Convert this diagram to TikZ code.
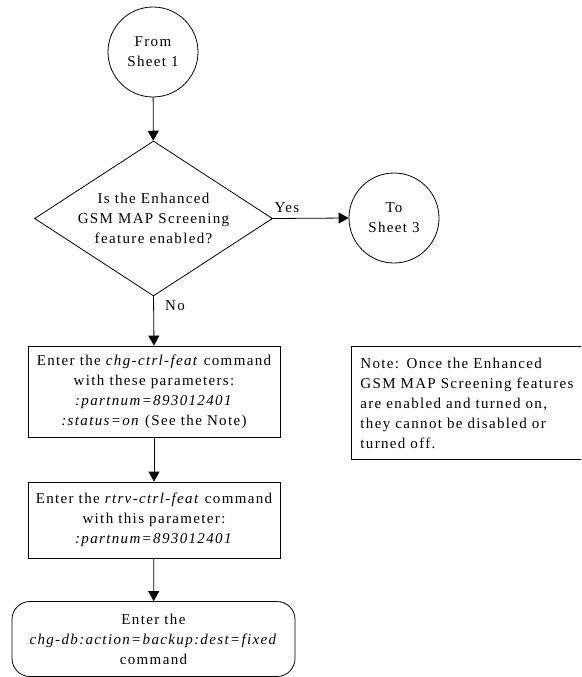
\documentclass[tikz,border=0pt]{standalone}
\usepackage{fontspec}
\setmainfont{Liberation Serif}[LetterSpace=9]
\usetikzlibrary{arrows.meta,shapes.geometric}

\tikzset{
  flow/.style={draw=black, line width=0.8pt, font=\fontsize{15}{20}\selectfont, align=center},
  connector/.style={circle, flow, minimum size=90pt, inner sep=0pt},
  decision/.style={diamond, flow, aspect=1.535, minimum width=238pt, minimum height=155pt, inner sep=0pt},
  process/.style={rectangle, flow, minimum width=252pt, inner sep=0pt},
  terminal/.style={rectangle, rounded corners=18pt, flow, minimum width=283pt, minimum height=75pt, inner sep=0pt},
  notebox/.style={rectangle, flow, align=left, anchor=north west, minimum width=280pt,
    minimum height=113pt, inner xsep=9pt, inner ysep=0pt, text width=262pt},
  link/.style={line width=0.8pt, -{Triangle[length=10pt,width=11pt]}},
  lbl/.style={font=\fontsize{15}{20}\selectfont, inner sep=0pt}
}

\begin{document}
\begin{tikzpicture}[x=1pt, y=-1pt]
  \useasboundingbox (0,0) rectangle (581,677);
  \clip (0,0) rectangle (581,677);

  % start connector and decision
  \node[connector] (from) at (153,52) {From\\Sheet 1};
  \node[decision] (dec) at (153.5,218.5) {Is the Enhanced\\GSM MAP Screening\\feature enabled?};
  \node[connector] (to) at (394,218) {To\\Sheet 3};

  % command steps
  \node[process, minimum height=91pt] (chg) at (154,391.5)
    {Enter the \textit{chg-ctrl-feat} command\\with these parameters:\\\textit{:partnum=893012401}\\\textit{:status=on} (See the Note)};
  \node[process, minimum height=76pt] (rtrv) at (154,520)
    {Enter the \textit{rtrv-ctrl-feat} command\\with this parameter:\\\textit{:partnum=893012401}};
  \node[terminal] (db) at (153.5,639)
    {Enter the\\\textit{chg-db:action=backup:dest=fixed}\\command};

  % note at the side, running past the right edge
  \node[notebox] (note) at (351,346)
    {Note: Once the Enhanced\\GSM MAP Screening features\\are enabled and turned on,\\they cannot be disabled or\\turned off.};

  % flow lines
  \draw[link] (from) -- (dec);
  \draw[link] (dec.east) -- (to.west);
  \draw[link] (dec.south) -- (chg.north);
  \draw[link] (chg) -- (rtrv);
  \draw[link] (rtrv) -- (db);

  % branch labels
  \node[lbl] (yes) at (287,208) {Yes};
  \node[lbl] (no) at (175,306) {No};
\end{tikzpicture}
\end{document}
